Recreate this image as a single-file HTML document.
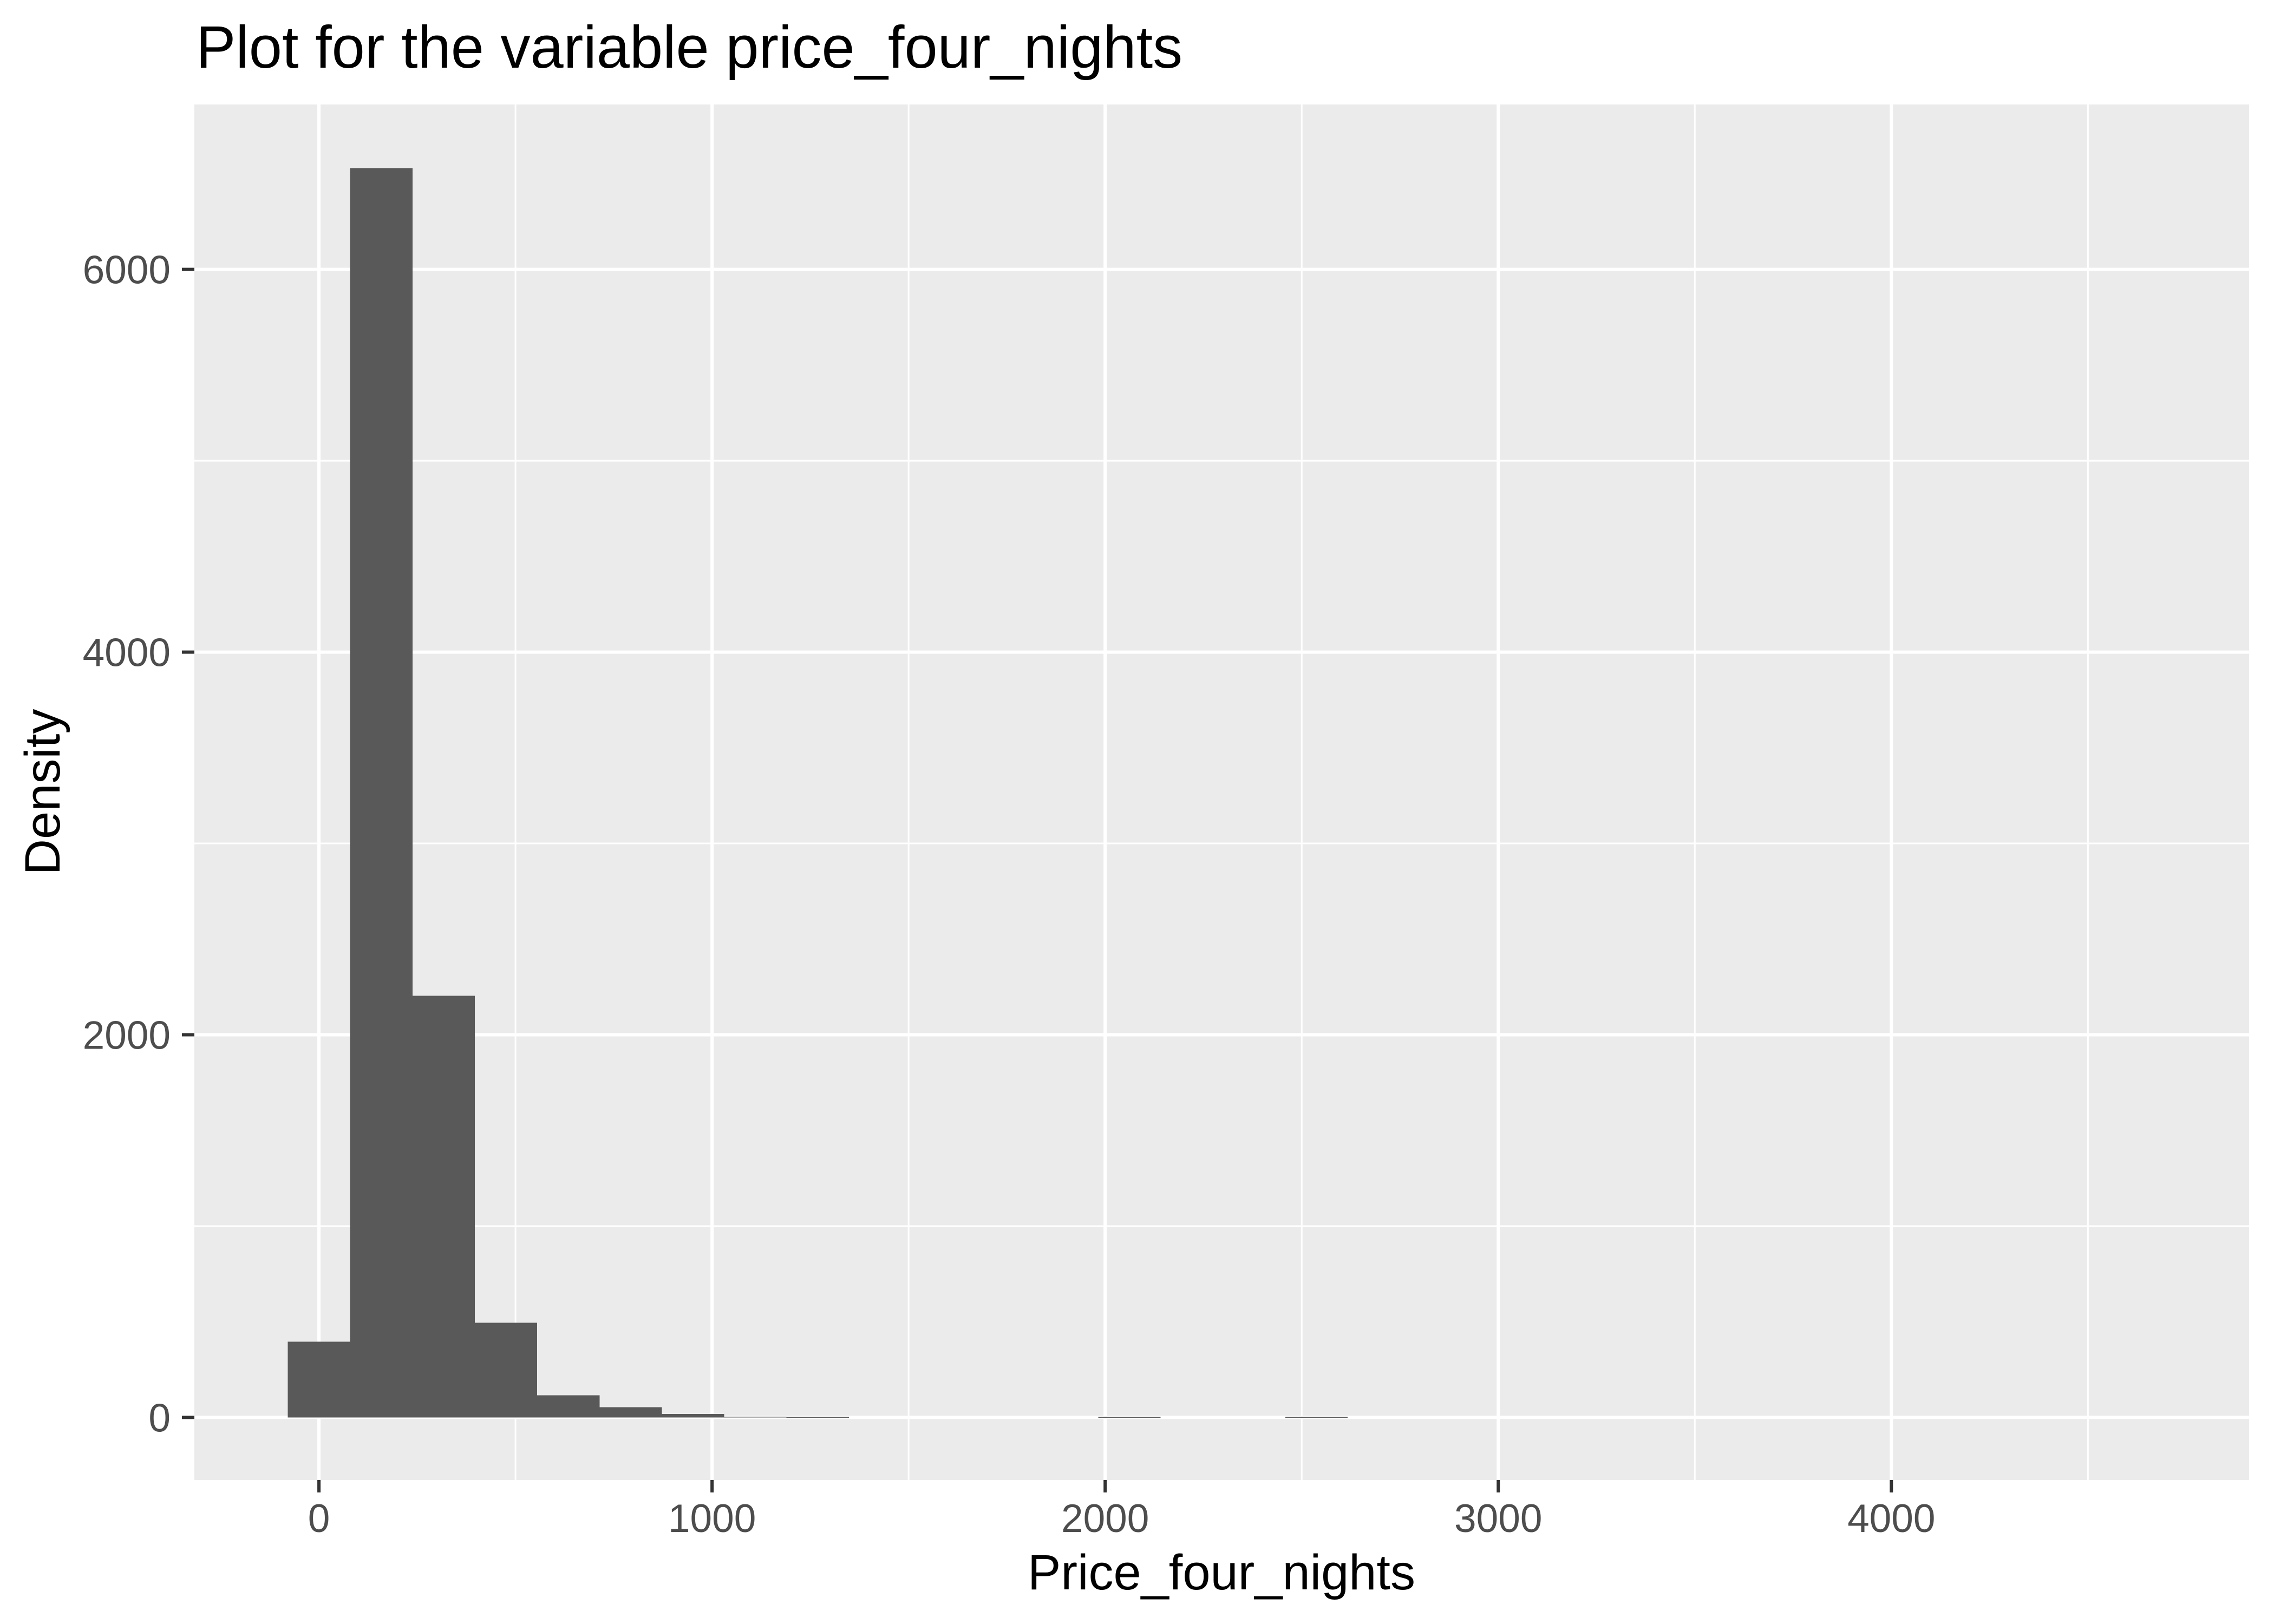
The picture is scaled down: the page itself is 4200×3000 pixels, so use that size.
<!DOCTYPE html>
<html><head><meta charset="utf-8"><style>html,body{margin:0;padding:0;background:#fff}svg{display:block}text{font-family:"Liberation Sans",sans-serif}</style></head>
<body>
<svg id="chart" width="4200" height="3000" viewBox="0 0 4200 3000" xmlns="http://www.w3.org/2000/svg">
<rect x="0" y="0" width="4200" height="3000" fill="#fff"/>
<text x="362" y="125" font-size="110" fill="#000">Plot for the variable price_four_nights</text>
<rect id="panel" x="359" y="193" width="3795" height="2541" fill="#ebebeb"/>
<g id="grid"></g>
<g id="bars" shape-rendering="crispEdges"></g>
<g id="axes"></g>
<text x="2256" y="2936" font-size="92" text-anchor="middle" fill="#000">Price_four_nights</text>
<text x="0" y="0" font-size="92" text-anchor="middle" fill="#000" transform="translate(110,1463) rotate(-90)">Density</text>
</svg>
<script>
const binWidth = 158.6;
const binCenters = [0,158.6,317.2,475.8,634.4,793,951.6,1110.2,1268.8,1427.4,1586,1744.6,1903.2,2061.8,2220.4,2379,2537.6,2696.2,2854.8,3013.4,3172,3330.6,3489.2,3647.8,3806.4,3965,4123.6,4282.2,4440.8,4599.4];
const counts = [396,6529,2204,495,116,54,18,4,2,0,0,0,0,2,0,0,2,0,0,0,0,0,0,0,0,0,0,0,0,0];
const xTicks = [0,1000,2000,3000,4000];
const xTickLabels = ["0","1000","2000","3000","4000"];
const xMinor = [-500,500,1500,2500,3500,4500];
const yTicks = [0,2000,4000,6000];
const yTickLabels = ["0","2000","4000","6000"];
const yMinor = [1000,3000,5000];

const P = {l:359, r:4154, t:193, b:2734};
const xMin = -316.9, xMax = 4910;
const yMin = -327, yMax = 6862;
const sx = v => P.l + (v - xMin) / (xMax - xMin) * (P.r - P.l);
const sy = v => P.b - (v - yMin) / (yMax - yMin) * (P.b - P.t);
const NS = "http://www.w3.org/2000/svg";
function mk(tag, attrs, parent){const e=document.createElementNS(NS,tag);for(const k in attrs)e.setAttribute(k,attrs[k]);parent.appendChild(e);return e;}
const grid=document.getElementById('grid'), bars=document.getElementById('bars'), axes=document.getElementById('axes');

yMinor.forEach(v=>{const l=mk('line',{x1:P.l,x2:P.r,y1:sy(v),y2:sy(v),stroke:'#fff','stroke-width':3},grid);

});
xMinor.forEach(v=>{const l=mk('line',{x1:sx(v),x2:sx(v),y1:P.t,y2:P.b,stroke:'#fff','stroke-width':3},grid);

});
yTicks.forEach(v=>{const l=mk('line',{x1:P.l,x2:P.r,y1:sy(v),y2:sy(v),stroke:'#fff','stroke-width':6},grid);

});
xTicks.forEach(v=>{const l=mk('line',{x1:sx(v),x2:sx(v),y1:P.t,y2:P.b,stroke:'#fff','stroke-width':6},grid);

});

binCenters.forEach((c,i)=>{
  if(counts[i]<=0) return;
  const x0=sx(c-binWidth/2), x1=sx(c+binWidth/2), y0=sy(0), y1=sy(counts[i]);
  const r=mk('rect',{x:x0,y:Math.min(y0,y1),width:x1-x0,height:Math.max(Math.abs(y0-y1),1.5),fill:'#595959'},bars);
  
  
});

xTicks.forEach((v,i)=>{
  const t=mk('line',{x1:sx(v),x2:sx(v),y1:P.b,y2:P.b+23,stroke:'#333','stroke-width':6},axes);
  
  
  const lb=mk('text',{x:sx(v),y:2830,'font-size':73,'text-anchor':'middle',fill:'#4d4d4d'},axes);
  lb.textContent=xTickLabels[i];
  
  
});
yTicks.forEach((v,i)=>{
  const t=mk('line',{x1:P.l-23,x2:P.l,y1:sy(v),y2:sy(v),stroke:'#333','stroke-width':6},axes);
  
  
  const lb=mk('text',{x:315,y:sy(v)+26,'font-size':73,'text-anchor':'end',fill:'#4d4d4d'},axes);
  lb.textContent=yTickLabels[i];
  
  
});
</script>
</body></html>
